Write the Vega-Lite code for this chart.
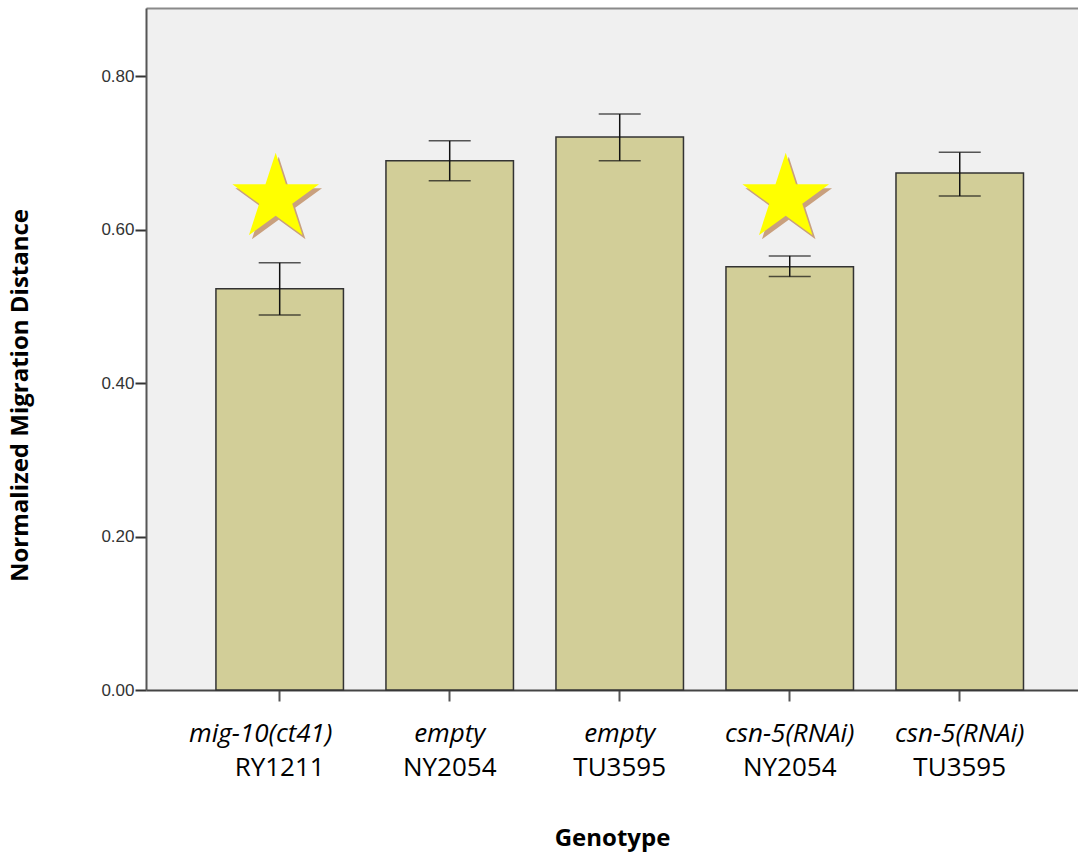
{
  "$schema": "https://vega.github.io/schema/vega-lite/v6.json",
  "width": 932,
  "height": 682,
  "autosize": {"type": "pad"},
  "padding": {"left": 8, "top": 8, "right": 0, "bottom": 2},
  "background": "white",
  "config": {
    "view": {"fill": "#f0f0f0", "stroke": null}
  },
  "data": {"values": [
    {"id": "mig-10(ct41)|RY1211", "mean": 0.523, "lo": 0.489, "hi": 0.557, "star": 0.641},
    {"id": "empty|NY2054", "mean": 0.690, "lo": 0.664, "hi": 0.716, "star": null},
    {"id": "empty|TU3595", "mean": 0.721, "lo": 0.690, "hi": 0.751, "star": null},
    {"id": "csn-5(RNAi)|NY2054", "mean": 0.552, "lo": 0.539, "hi": 0.566, "star": 0.641},
    {"id": "csn-5(RNAi)|TU3595", "mean": 0.674, "lo": 0.644, "hi": 0.701, "star": null}
  ]},
  "layer": [
    {
      "mark": {"type": "bar", "fill": "#d2ce98", "stroke": "#333333", "strokeWidth": 1.5},
      "encoding": {
        "x": {"field": "id", "type": "nominal", "sort": null,
          "scale": {"paddingInner": 0.25, "paddingOuter": 0.366, "align": 0.562},
          "axis": {"orient": "bottom", "title": null, "labelExpr": "split(datum.value, '|')[0]", "labelAngle": 0,
            "labelFont": "Open Sans", "labelFontStyle": "italic", "labelFontSize": 26, "labelColor": "#000",
            "labelOffset": {"condition": {"test": "datum.index == 0", "value": -19}, "value": 0},
            "tickColor": "#555", "tickSize": 11, "tickWidth": 2, "domainColor": "#444", "domainWidth": 2, "labelPadding": 19}},
        "y": {"field": "mean", "type": "quantitative", "title": "Normalized Migration Distance",
          "scale": {"domain": [0, 0.8892], "nice": false},
          "axis": {"values": [0, 0.2, 0.4, 0.6, 0.8], "format": ".2f", "grid": false,
            "domainColor": "#555", "domainWidth": 2, "tickColor": "#333", "tickWidth": 2, "tickSize": 11,
            "labelFont": "Liberation Sans", "labelFontSize": 17, "labelColor": "#333", "labelPadding": 1,
            "titleFont": "Open Sans", "titleFontWeight": "bold", "titleFontSize": 24, "titleColor": "#000", "titlePadding": 68, "titleY": 387}}
      }
    },
    {
      "mark": {"type": "rule", "color": "#111", "strokeWidth": 1.5},
      "encoding": {
        "x": {"field": "id", "type": "nominal", "sort": null,
          "axis": {"orient": "bottom", "title": "Genotype", "labelExpr": "split(datum.value, '|')[1]", "labelAngle": 0,
            "ticks": false, "domain": false,
            "labelFont": "Open Sans", "labelFontSize": 26, "labelColor": "#000", "labelPadding": 64,
            "titleFont": "Open Sans", "titleFontWeight": "bold", "titleFontSize": 24, "titleColor": "#000", "titlePadding": 46}},
        "y": {"field": "lo", "type": "quantitative", "title": "Normalized Migration Distance"},
        "y2": {"field": "hi"}
      }
    },
    {
      "mark": {"type": "tick", "color": "#111", "thickness": 1.5, "size": 42},
      "encoding": {
        "x": {"field": "id", "type": "nominal", "sort": null,
          "axis": {"orient": "top", "title": null, "labels": false, "ticks": false, "domain": true, "domainColor": "#8a8a8a", "domainWidth": 2}},
        "y": {"field": "lo", "type": "quantitative", "title": "Normalized Migration Distance"}
      }
    },
    {
      "mark": {"type": "tick", "color": "#111", "thickness": 1.5, "size": 42},
      "encoding": {
        "x": {"field": "id", "type": "nominal", "sort": null, "axis": null},
        "y": {"field": "hi", "type": "quantitative", "title": "Normalized Migration Distance"}
      }
    },
    {
      "mark": {"type": "point", "shape": "M0,-1L0.2245,-0.309L0.951,-0.309L0.363,0.118L0.588,0.809L0,0.382L-0.588,0.809L-0.363,0.118L-0.951,-0.309L-0.2245,-0.309Z", "filled": true, "size": 8300, "color": "#c9a07e", "strokeWidth": 0, "opacity": 1, "xOffset": -1, "yOffset": 4},
      "encoding": {
        "x": {"field": "id", "type": "nominal", "sort": null, "axis": null},
        "y": {"field": "star", "type": "quantitative", "title": "Normalized Migration Distance"}
      }
    },
    {
      "mark": {"type": "point", "shape": "M0,-1L0.2245,-0.309L0.951,-0.309L0.363,0.118L0.588,0.809L0,0.382L-0.588,0.809L-0.363,0.118L-0.951,-0.309L-0.2245,-0.309Z", "filled": true, "size": 8300, "color": "#ffff00", "strokeWidth": 0, "opacity": 1, "xOffset": -4},
      "encoding": {
        "x": {"field": "id", "type": "nominal", "sort": null, "axis": null},
        "y": {"field": "star", "type": "quantitative", "title": "Normalized Migration Distance"}
      }
    }
  ],
  "resolve": {"axis": {"x": "independent"}}
}
